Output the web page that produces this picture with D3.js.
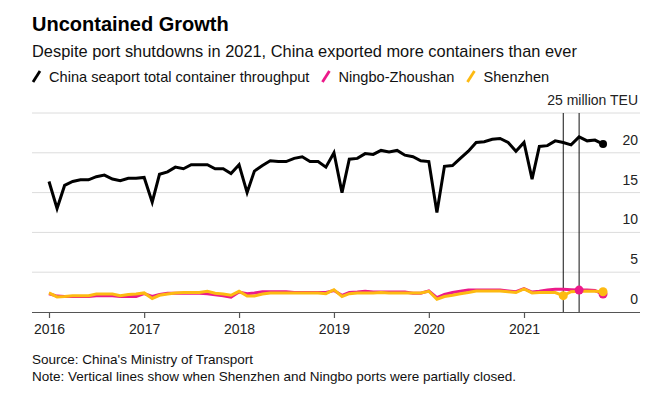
<!DOCTYPE html>
<html>
    <head>
        <title>Uncontained Growth</title>
        <style>
            body { margin: 0; background: #fff; }
            svg { font-family: "Liberation Sans", Arial, sans-serif; }
        </style>
    </head>
    <body>
        <svg></svg>

        <script src="https://d3js.org/d3.v7.min.js"></script>
        <script>
            // monthly values, Jan 2016 .. Nov 2021 (million TEU)
            var startYear = 2016
            var totalChina = [16.4,13.0,15.9,16.4,16.6,16.6,17.0,17.2,16.7,16.5,16.8,16.8,
                16.9,13.8,17.3,17.6,18.2,18.0,18.5,18.5,18.5,18.0,18.0,17.4,
                18.5,15.0,17.7,18.4,19.0,18.9,18.9,19.3,19.5,18.9,18.9,18.2,
                20.0,15.0,19.2,19.3,19.9,19.8,20.3,20.1,20.3,19.7,19.5,19.0,
                18.9,12.5,18.3,18.4,19.3,20.2,21.3,21.4,21.7,21.8,21.3,20.2,
                21.3,16.7,20.8,20.9,21.5,21.3,21.0,22.0,21.5,21.6,21.1]
            var ningbo = [2.3,2.0,1.95,1.95,1.95,1.95,2.05,2.05,2.05,1.95,1.95,1.95,
                2.3,1.95,2.2,2.35,2.35,2.35,2.35,2.35,2.3,2.15,2.05,1.85,
                2.5,2.3,2.4,2.55,2.55,2.55,2.55,2.45,2.45,2.45,2.45,2.45,
                2.7,2.1,2.45,2.5,2.6,2.5,2.5,2.5,2.5,2.5,2.35,2.35,
                2.65,1.8,2.2,2.45,2.6,2.75,2.75,2.75,2.75,2.75,2.65,2.55,
                2.95,2.5,2.6,2.75,2.85,2.85,2.8,2.75,2.75,2.7,2.25]
            var shenzhen = [2.4,1.9,1.95,2.05,2.05,2.05,2.25,2.25,2.25,2.05,2.2,2.25,
                2.4,1.7,2.1,2.25,2.4,2.45,2.45,2.45,2.6,2.35,2.25,2.1,
                2.6,2.0,2.0,2.25,2.4,2.4,2.4,2.4,2.4,2.4,2.4,2.3,
                2.8,1.95,2.3,2.4,2.4,2.4,2.45,2.4,2.4,2.4,2.4,2.4,
                2.6,1.6,1.95,2.1,2.3,2.45,2.65,2.65,2.65,2.65,2.55,2.45,
                2.9,2.4,2.45,2.45,2.45,2.05,2.55,2.6,2.6,2.6,2.55]
            var yTicks = [0, 5, 10, 15, 20, 25]
            var yearTicks = [2016, 2017, 2018, 2019, 2020, 2021]
            // port closures: Shenzhen June 2021, Ningbo Aug 2021
            var closures = [{date: [2021, 5], series: "shenzhen"}, {date: [2021, 7], series: "ningbo"}]

            var colors = {total: "#000000", ningbo: "#ec1a8a", shenzhen: "#fdba12"}

            window.onload = function(){
                var svgCanvas = d3.select("svg")
                    .attr("width", 664)
                    .attr("height", 393)

                function monthDate(i) { return new Date(startYear, i, 1) }

                var x = d3.scaleTime()
                    .domain([new Date(2016, 0, 1), new Date(2021, 0, 1)])
                    .range([49, 524])
                var y = d3.scaleLinear().domain([0, 25]).range([312, 113])

                // title block
                svgCanvas.append("text").attr("x", 32).attr("y", 31)
                    .attr("font-size", 20).attr("font-weight", "bold").attr("fill", "#000")
                    .text("Uncontained Growth")
                svgCanvas.append("text").attr("x", 32).attr("y", 57)
                    .attr("font-size", 16.4).attr("fill", "#111")
                    .text("Despite port shutdowns in 2021, China exported more containers than ever")

                // legend
                var legend = [
                    {key: "total", label: "China seaport total container throughput"},
                    {key: "ningbo", label: "Ningbo-Zhoushan"},
                    {key: "shenzhen", label: "Shenzhen"}]
                var lx = 33
                legend.forEach(function(d) {
                    svgCanvas.append("line")
                        .attr("x1", lx).attr("y1", 82).attr("x2", lx + 7).attr("y2", 71)
                        .attr("stroke", colors[d.key]).attr("stroke-width", 2.8)
                    var t = svgCanvas.append("text").attr("x", lx + 16).attr("y", 82)
                        .attr("font-size", 14.6).attr("fill", "#111").text(d.label)
                    lx = lx + 16 + t.node().getComputedTextLength() + 13
                })

                // gridlines
                svgCanvas.selectAll("line.grid")
                    .data(yTicks.filter(function(v) { return v > 0 })).enter().append("line")
                    .attr("class", "grid")
                    .attr("x1", 32).attr("x2", 640)
                    .attr("y1", function(v) { return y(v) }).attr("y2", function(v) { return y(v) })
                    .attr("stroke", "#dcdcdc").attr("stroke-width", 1)

                // y labels on the right, sitting above their gridline
                svgCanvas.selectAll("text.ylab")
                    .data(yTicks).enter().append("text")
                    .attr("class", "ylab")
                    .attr("x", 638).attr("y", function(v) { return y(v) - 8 })
                    .attr("text-anchor", "end").attr("font-size", 14).attr("fill", "#222")
                    .text(function(v) { return v == 25 ? "25 million TEU" : v })

                // x axis
                var xAxis = d3.axisBottom(x)
                    .tickValues(yearTicks.map(function(yr) { return new Date(yr, 0, 1) }))
                    .tickFormat(d3.timeFormat("%Y"))
                    .tickSize(6).tickSizeOuter(0)
                var ax = svgCanvas.append("g").attr("transform", "translate(0," + y(0) + ")").call(xAxis)
                ax.select(".domain").attr("d", "M32,0.5H640").attr("stroke", "#555").attr("stroke-width", 1.2)
                ax.selectAll(".tick line").attr("stroke", "#555").attr("stroke-width", 1.2)
                ax.selectAll(".tick text").attr("font-size", 14).attr("fill", "#222")
                    .attr("font-family", "Liberation Sans, Arial, sans-serif").attr("dy", "0.95em")

                // closure lines
                closures.forEach(function(c) {
                    var cx = x(new Date(c.date[0], c.date[1], 1))
                    svgCanvas.append("line")
                        .attr("x1", cx).attr("x2", cx).attr("y1", y(25)).attr("y2", y(0))
                        .attr("stroke", "#111").attr("stroke-width", 1)
                })

                // the series
                var line = d3.line()
                    .x(function(d, i) { return x(monthDate(i)) })
                    .y(function(d) { return y(d) })
                var series = [
                    {key: "total", values: totalChina},
                    {key: "ningbo", values: ningbo},
                    {key: "shenzhen", values: shenzhen}]
                series.forEach(function(s) {
                    svgCanvas.append("path")
                        .attr("d", line(s.values))
                        .attr("fill", "none")
                        .attr("stroke", colors[s.key])
                        .attr("stroke-width", 3)
                        .attr("stroke-linejoin", "miter")
                })

                // dots at closures and at series ends
                var last = totalChina.length - 1
                var dots = [
                    {key: "total", i: last, v: totalChina[last], r: 4},
                    {key: "ningbo", i: last, v: ningbo[last], r: 4.5},
                    {key: "shenzhen", i: last, v: shenzhen[last], r: 4.5}]
                closures.forEach(function(c) {
                    var i = (c.date[0] - startYear) * 12 + c.date[1]
                    var vals = c.series == "ningbo" ? ningbo : shenzhen
                    dots.push({key: c.series, i: i, v: vals[i], r: 4.5})
                })
                svgCanvas.selectAll("circle")
                    .data(dots).enter().append("circle")
                    .attr("cx", function(d) { return x(monthDate(d.i)) })
                    .attr("cy", function(d) { return y(d.v) })
                    .attr("r", function(d) { return d.r })
                    .attr("fill", function(d) { return colors[d.key] })

                // footnotes
                svgCanvas.append("text").attr("x", 32).attr("y", 364)
                    .attr("font-size", 13.5).attr("fill", "#111")
                    .text("Source: China's Ministry of Transport")
                svgCanvas.append("text").attr("x", 32).attr("y", 381)
                    .attr("font-size", 13.5).attr("fill", "#111")
                    .text("Note: Vertical lines show when Shenzhen and Ningbo ports were partially closed.")
            }
        </script>
    </body>
</html>
